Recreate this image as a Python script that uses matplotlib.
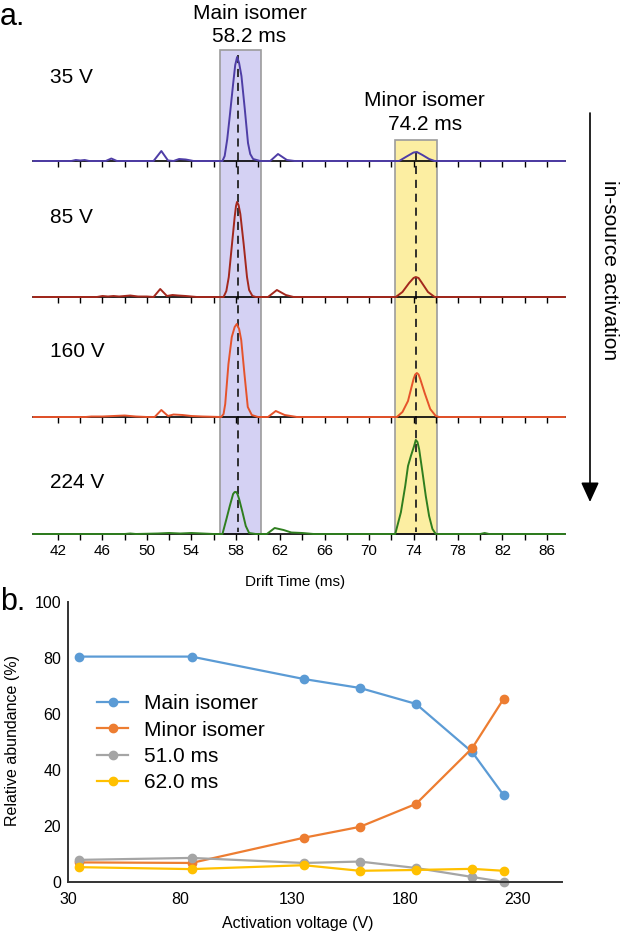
import numpy as np
import matplotlib
matplotlib.use("Agg")
import matplotlib.pyplot as plt
from matplotlib.patches import Rectangle

plt.rcParams['font.family'] = ['Liberation Sans', 'DejaVu Sans']

# ---- panel a: drift time traces (drift time ms, intensity arb.) ----
t_35 = [39.8, 43.2, 43.6, 44.0, 44.4, 44.8, 46.3, 46.8, 47.3, 50.6, 51.3, 51.9, 52.4,
        52.9, 53.5, 54.2, 56.8, 57.0, 57.23, 57.46, 57.77, 57.95, 58.12, 58.3, 58.51,
        58.81, 59.1, 59.3, 59.56, 60.2, 61.1, 61.8, 62.6, 63.3, 72.7, 73.3, 74.0, 74.3,
        74.8, 75.4, 75.9, 87.6]
y_35 = [0, 0, 1, 0.5, 1, 0, 0, 2.5, 0, 0, 10, 0.5, 0,
        2, 1.5, 0, 0, 5, 21.7, 45, 78, 96, 104, 98, 85,
        52, 18, 7, 2, 0, 0, 7, 1, 0, 0, 4, 8.5, 9,
        6, 2, 0, 0]

t_85 = [39.8, 45.5, 46.0, 46.5, 47.0, 47.5, 48.5, 49.2, 50.0, 50.6, 51.2, 51.8, 52.3,
        52.8, 53.5, 54.5, 56.9, 57.15, 57.37, 57.66, 57.9, 58.02, 58.11, 58.25, 58.41,
        58.71, 59.01, 59.2, 59.5, 59.8, 60.9, 61.7, 62.5, 63.2, 72.4, 73.0, 73.6, 74.0,
        74.2, 74.45, 74.7, 75.3, 75.9, 87.6]
y_85 = [0, 0, 1, 0.5, 1, 0.5, 1.5, 0.5, 0.5, 0, 8, 1, 2,
        1.5, 1, 0, 0, 6, 20, 53, 80, 91, 95, 92, 83,
        53, 20, 7, 1, 0, 0, 7, 2, 0, 0, 5, 14, 19,
        20, 19, 15, 5, 0, 0]

t_160 = [39.8, 44.5, 45.0, 46.0, 47.0, 48.0, 49.0, 50.0, 50.7, 51.3, 51.9, 52.4, 53.2,
         54.0, 55.0, 56.69, 56.9, 57.05, 57.34, 57.64, 57.9, 58.09, 58.3, 58.49, 58.78,
         59.08, 59.44, 60.0, 60.9, 61.6, 62.4, 63.5, 72.5, 73.0, 73.5, 74.0, 74.15, 74.3,
         74.45, 74.6, 75.0, 75.5, 76.0, 76.3, 87.6]
y_160 = [0, 0, 0.5, 0.5, 1, 1.5, 0.5, 0, 0, 7, 1, 2.5, 2,
         1, 0.5, 0, 3, 13, 53, 80, 90, 93, 88, 77, 43,
         10, 2, 0, 0, 6, 2, 0, 0, 5, 16, 38, 42.5, 44,
         42.5, 38, 24, 8, 1, 0, 0]

t_224 = [39.8, 48.0, 48.5, 49.0, 51.0, 52.0, 53.0, 54.0, 55.0, 56.0, 56.8, 57.16, 57.46,
         57.76, 57.9, 58.03, 58.15, 58.3, 58.6, 58.9, 59.2, 59.8, 60.8, 61.5, 62.3, 63.0,
         64.0, 65.0, 72.35, 72.86, 73.25, 73.5, 73.76, 74.05, 74.2, 74.35, 74.5, 74.8,
         75.1, 75.4, 75.7, 76.0, 80.0, 80.4, 80.8, 87.6]
y_224 = [0, 0, 0.5, 0, 0.5, 1, 0.5, 1, 0.5, 0, 0, 15, 28,
         40, 42, 42, 40, 35, 22, 8, 1, 0, 0, 6, 4, 1.5,
         1, 0, 0, 21.7, 48, 68, 78, 88, 94, 92, 85, 62,
         38, 18, 5, 0, 0, 1, 0, 0]

trace_labels = ['35 V', '85 V', '160 V', '224 V']
trace_colors = ['#4E3DA6', '#A3281D', '#E5532B', '#2F7E1F']

band_main = (56.58, 60.27)
band_minor = (72.33, 76.1)
main_dt = 58.2
minor_dt = 74.2

# ---- panel b: relative abundance ----
volt = [35, 85, 135, 160, 185, 210, 224]
main_iso = [80.5, 80.5, 72.5, 69.3, 63.6, 46.4, 31.0]
minor_iso = [7.0, 6.8, 15.8, 19.7, 27.9, 47.8, 65.4]
ms_51 = [7.9, 8.6, 6.8, 7.3, 5.0, 1.8, 0.0]
ms_62 = [5.3, 4.6, 6.0, 4.0, 4.3, 4.7, 4.0]
series_names = ['Main isomer', 'Minor isomer', '51.0 ms', '62.0 ms']
series_colors = ['#5B9BD5', '#ED7D31', '#A5A5A5', '#FFC000']

W, H = 624, 934
def fx(px):
    return px / W
def fy(py):
    return 1 - py / H

fig = plt.figure(figsize=(W / 100, H / 100), dpi=100)

T0, T1 = 39.75, 87.63
AX_L, AX_R = 33, 565

# background: bands + dashed lines (y in pixels from top)
ax_bg = fig.add_axes([fx(AX_L), fy(534), (AX_R - AX_L) / W, 534 / H])
ax_bg.set_xlim(T0, T1)
ax_bg.set_ylim(534, 0)
ax_bg.axis('off')
for (lo, hi), top, col in zip([band_main, band_minor], [50, 140], ['#D4D1F3', '#FCEEA2']):
    ax_bg.add_patch(Rectangle((lo, top), hi - lo, 534 - top, facecolor=col,
                              edgecolor='#9C9C9C', lw=1.2, clip_on=False))
for dt, top in [(main_dt, 55), (minor_dt, 152)]:
    ln, = ax_bg.plot([dt, dt], [top, 532], color='#222222', lw=1.3, clip_on=False)
    ln.set_dashes((4.5, 3.2))

baselines = [161, 297, 417, 534]
traces = [(t_35, y_35), (t_85, y_85), (t_160, y_160), (t_224, y_224)]
ticks = list(range(42, 87, 2))
for i, ((t, y), col, base) in enumerate(zip(traces, trace_colors, baselines)):
    ax = fig.add_axes([fx(AX_L), fy(base), (AX_R - AX_L) / W, 110 / H])
    ax.set_facecolor('none')
    ax.plot(t, y, color=col, lw=1.4, clip_on=False, zorder=3, solid_joinstyle='round')
    ax.set_xlim(T0, T1)
    ax.set_ylim(0, 110)
    for s in ['top', 'left', 'right']:
        ax.spines[s].set_visible(False)
    ax.spines['bottom'].set_linewidth(1.2)
    ax.set_yticks([])
    ax.set_xticks(ticks)
    ax.tick_params(axis='x', direction='out', length=4, width=1, pad=3, labelsize=11)
    if i < 3:
        ax.set_xticklabels([])
    else:
        ax.set_xticklabels([str(v) if (v - 42) % 4 == 0 else '' for v in ticks])

for lab, yb in zip(trace_labels, [83, 223, 357, 488]):
    fig.text(fx(50), fy(yb), lab, fontsize=15, va='baseline', ha='left')

fig.text(fx(250), fy(19), 'Main isomer', fontsize=15, ha='center', va='baseline')
fig.text(fx(249), fy(42), '%.1f ms' % main_dt, fontsize=15, ha='center', va='baseline')
fig.text(fx(424), fy(106), 'Minor isomer', fontsize=15, ha='center', va='baseline')
fig.text(fx(425), fy(130), '%.1f ms' % minor_dt, fontsize=15, ha='center', va='baseline')
fig.text(fx(295), fy(582), 'Drift Time (ms)', fontsize=11, ha='center', va='center')
fig.text(fx(0), fy(25), 'a.', fontsize=22, ha='left', va='baseline')

# in-source activation arrow
ax_bg.annotate('', xy=(fx(590), fy(502)), xytext=(fx(590), fy(113)),
               xycoords='figure fraction', textcoords='figure fraction',
               arrowprops=dict(arrowstyle='-|>,head_length=1.2,head_width=0.55',
                               color='black', lw=1.2, mutation_scale=10,
                               shrinkA=0, shrinkB=0),
               annotation_clip=False)
fig.text(fx(610), fy(270), 'in-source activation', fontsize=15, rotation=-90,
         ha='center', va='center')

# ---- panel b ----
axb = fig.add_axes([fx(68), fy(882), (562 - 68) / W, 280 / H])
for vals, name, col in zip([main_iso, minor_iso, ms_51, ms_62], series_names, series_colors):
    axb.plot(volt, vals, color=col, lw=1.6, marker='o', markersize=6, label=name,
             clip_on=False)
axb.set_xlim(30, 250)
axb.set_ylim(0, 100)
axb.set_xticks(range(30, 231, 50))
axb.set_yticks(range(0, 101, 20))
for s in ['top', 'right']:
    axb.spines[s].set_visible(False)
for s in ['left', 'bottom']:
    axb.spines[s].set_linewidth(1.4)
    axb.spines[s].set_color('#333333')
axb.tick_params(axis='both', length=0, labelsize=11.5)
axb.tick_params(axis='x', pad=7)
axb.tick_params(axis='y', pad=5)
axb.legend(loc='upper left', bbox_to_anchor=(fx(97), fy(694)),
           bbox_transform=fig.transFigure, frameon=False, fontsize=15,
           handlelength=1.5, handletextpad=0.75, labelspacing=0.36,
           borderpad=0, borderaxespad=0)

fig.text(fx(13), fy(740), 'Relative abundance (%)', fontsize=11.5, rotation=90,
         ha='center', va='center')
fig.text(fx(298), fy(928), 'Activation voltage (V)', fontsize=11.5, ha='center',
         va='baseline')
fig.text(fx(0), fy(610), 'b.', fontsize=22, ha='left', va='baseline')

fig.savefig('out.png', dpi=100)
